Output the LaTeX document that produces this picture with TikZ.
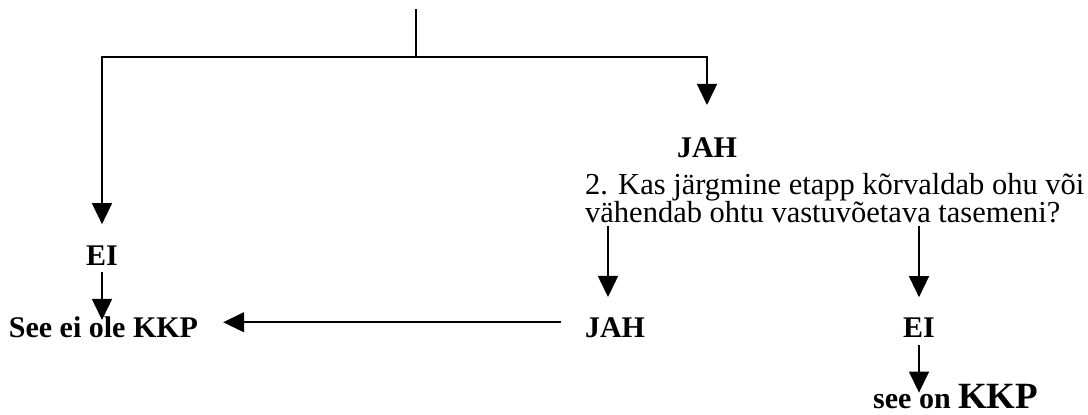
\documentclass[tikz,border=0pt]{standalone}
\usepackage{fontspec}
\setmainfont{Liberation Serif}
\usetikzlibrary{arrows.meta}

\begin{document}
\begin{tikzpicture}[x=1pt, y=-1pt,
  lab/.style={font=\bfseries\fontsize{30}{30}\selectfont, inner sep=0pt, anchor=base},
  txt/.style={font=\fontsize{30.5}{30}\selectfont, inner sep=0pt, anchor=base west},
  conn/.style={line width=1.5pt},
  arr/.style={conn, -{Triangle[length=21pt,width=20pt]}}]
\useasboundingbox (0,0) rectangle (1088,415);
\coordinate (top) at (416,9) ; % top
\coordinate (fork) at (416,57) ; % fork
\node[lab] (jahA) at (707,157) {JAH} ; % JAH 1
\node[txt] (questA) at (585,194) {2. Kas järgmine etapp kõrvaldab ohu või} ; % question 2
\node[txt] (questB) at (585,222) {vähendab ohtu vastuvõetava tasemeni?} ; % question 2
\node[lab] (eiA) at (102,265) {EI} ; % EI 1
\node[lab, anchor=base west] (seeEi) at (8.7,337) {See ei ole KKP} ; % not CCP
\node[lab] (jahB) at (615,337) {JAH} ; % JAH 2
\node[lab] (eiB) at (919,337) {EI} ; % EI 2
\node[lab, anchor=base west] (seeOn) at (873,408) {see on {\fontsize{37}{37}\selectfont KKP}} ; % CCP

\draw[conn] (top) -- (fork) ; % stem
\draw[arr, shorten >=21pt] (fork) -| (eiA.north) ; % to EI 1
\draw[arr, shorten >=32pt] (fork) -| (jahA.north) ; % to JAH 1
\draw[arr, shorten <=7pt, shorten >=-4pt] (eiA.south) -- (eiA.south |- seeEi.north) ; % EI 1
\draw[arr, shorten <=24pt, shorten >=25pt] ([yshift=5pt]jahB.west) -- ([yshift=5pt]jahB.west -| seeEi.east) ; % JAH 2
\draw[arr, shorten <=3pt, shorten >=20pt] ([xshift=-7pt]questB.south -| jahB.north) -- ([xshift=-7pt]jahB.north) ; % q to JAH 2
\draw[arr, shorten <=3pt, shorten >=20pt] (questB.south -| eiB.north) -- (eiB.north) ; % q to EI 2
\draw[arr, shorten <=8pt, shorten >=-9pt] (eiB.south) -- (eiB.south |- seeOn.north) ; % EI 2
\end{tikzpicture}
\end{document}
